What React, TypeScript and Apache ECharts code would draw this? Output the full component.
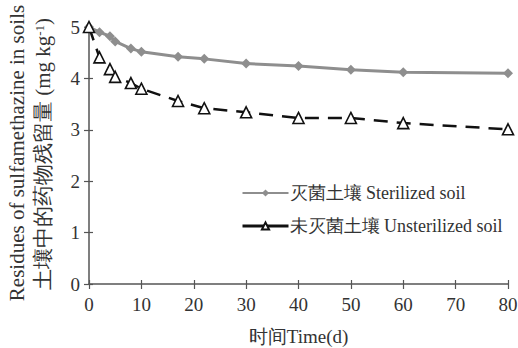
import React, { useEffect, useRef } from "react";
import * as echarts from "echarts";

const days = [0, 2, 4, 5, 8, 10, 17, 22, 30, 40, 50, 60, 80];
const sterilized = [5.0, 4.9, 4.82, 4.72, 4.58, 4.52, 4.42, 4.38, 4.29, 4.24, 4.17, 4.12, 4.1];
const unsterilized = [5.0, 4.41, 4.18, 4.03, 3.91, 3.8, 3.56, 3.42, 3.34, 3.23, 3.23, 3.13, 3.01];
const seriesNames = ["灭菌土壤 Sterilized soil", "未灭菌土壤 Unsterilized soil"];
const xTitle = "时间Time(d)";
const yTitle1 = "Residues of sulfamethazine in soils";

const FONT = "Liberation Serif";

export default function App() {
  const ref = useRef<HTMLDivElement>(null);
  useEffect(() => {
    const chart = echarts.init(ref.current!, undefined, { renderer: "svg" });
    const axisColor = "#555";
    const textColor = "#333";
    chart.setOption({
      animation: false,
      backgroundColor: "#fff",
      textStyle: { fontFamily: FONT },
      grid: { left: 89, right: 10, top: 27, bottom: 64, containLabel: false, outerBoundsMode: "none" },
      xAxis: [
        {
          type: "value",
          min: 0,
          max: 80,
          interval: 10,
          name: xTitle,
          nameLocation: "middle",
          nameGap: 43,
          nameTextStyle: { fontFamily: FONT, fontSize: 19, color: textColor },
          axisLine: { lineStyle: { color: axisColor, width: 1.5 } },
          axisTick: { length: 5, lineStyle: { color: axisColor, width: 1.2 } },
          axisLabel: { fontFamily: FONT, fontSize: 19, color: textColor, margin: 11 },
          splitLine: { show: false },
        },
        {
          type: "value",
          min: 0,
          max: 80,
          interval: 10,
          position: "bottom",
          axisLine: { show: false },
          axisTick: { inside: true, length: 4, lineStyle: { color: axisColor, width: 1.2 } },
          axisLabel: { show: false },
          splitLine: { show: false },
        },
      ],
      yAxis: [
        {
          type: "value",
          min: 0,
          max: 5,
          interval: 1,
          axisLine: { show: true, lineStyle: { color: axisColor, width: 1.5 } },
          axisTick: { show: true, length: 5, lineStyle: { color: axisColor, width: 1.2 } },
          axisLabel: { fontFamily: FONT, fontSize: 19, color: textColor, margin: 9 },
          splitLine: { show: false },
        },
        {
          type: "value",
          min: 0,
          max: 5,
          interval: 1,
          position: "left",
          axisLine: { show: false },
          axisTick: { show: true, inside: true, length: 4, lineStyle: { color: axisColor, width: 1.2 } },
          axisLabel: { show: false },
          splitLine: { show: false },
        },
      ],
      legend: {
        orient: "vertical",
        left: 236,
        top: 179,
        itemWidth: 46,
        itemHeight: 9,
        itemGap: 15,
        textStyle: { fontFamily: FONT, fontSize: 18, color: textColor, padding: [0, 0, 0, -4] },
        data: [
          { name: seriesNames[0] },
          { name: seriesNames[1], lineStyle: { type: "solid", width: 3 } },
        ],
      },
      series: [
        {
          name: seriesNames[0],
          type: "line",
          data: days.map((d, i) => [d, sterilized[i]]),
          symbol: "diamond",
          symbolSize: 10,
          itemStyle: { color: "#8e8e8e" },
          lineStyle: { color: "#8e8e8e", width: 3 },
          z: 2,
        },
        {
          name: seriesNames[1],
          type: "line",
          data: days.map((d, i) => [d, unsterilized[i]]),
          symbol: "triangle",
          symbolSize: 11,
          itemStyle: { color: "#fff", borderColor: "#111", borderWidth: 1.6 },
          lineStyle: { color: "#111", width: 2.5, type: [14, 9] },
          z: 3,
        },
      ],
      graphic: [
        {
          type: "text",
          x: 17,
          y: 153,
          rotation: Math.PI / 2,
          style: {
            text: yTitle1,
            font: `21px ${FONT}`,
            fill: textColor,
            align: "center",
            verticalAlign: "middle",
          },
        },
        {
          type: "text",
          x: 43,
          y: 154,
          rotation: Math.PI / 2,
          style: {
            text: "{a|土壤中的药物残留量 (mg kg}{s|-1}{a|)}",
            align: "center",
            verticalAlign: "middle",
            fill: textColor,
            rich: {
              a: { fontFamily: FONT, fontSize: 21, fill: textColor, color: textColor },
              s: { fontFamily: FONT, fontSize: 13, fill: textColor, color: textColor, verticalAlign: "top", padding: [0, 0, 8, 0] },
            },
          },
        },
      ],
    });
    return () => chart.dispose();
  }, []);
  return <div ref={ref} style={{ width: 518, height: 348, position: "absolute", left: 0, top: 0 }} />;
}
